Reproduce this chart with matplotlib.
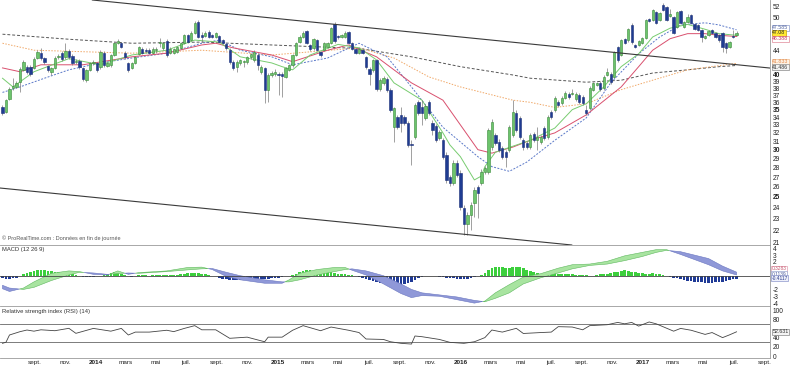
import numpy as np
import pandas as pd
import matplotlib
matplotlib.use('Agg')
import matplotlib.pyplot as plt
import matplotlib.dates as mdates
from matplotlib.transforms import blended_transform_factory
from matplotlib.ticker import FixedLocator, FixedFormatter, NullLocator

plt.rcParams['font.family'] = ['Liberation Sans', 'DejaVu Sans']

# ---------------- DATA ----------------
first_week = '2013-06-28'

opens = [35.37, 34.69, 36.47, 38.1, 38.2, 38.94, 40.75, 41.23, 41.23, 41.07,
         42.69, 43.51, 42.69, 41.39, 40.45, 41.07, 42.85, 43.51, 42.85, 43.85,
         43.02, 42.04, 42.2, 41.07, 39.24, 40.75, 41.87, 41.87, 41.23, 43.51,
         41.39, 41.55, 43.18, 45.22, 45.22, 43.51, 41.87, 41.07, 41.87, 43.35,
         44.19, 44.02, 44.02, 43.51, 44.02, 45.22, 44.36, 45.57, 43.51, 43.6,
         43.68, 44.36, 45.22, 46.64, 45.75, 47.0, 49.04, 46.64, 46.46, 47.18,
         46.64, 46.28, 46.46, 45.75, 45.05, 44.02, 42.04, 41.23, 41.87, 42.1,
         42.04, 42.85, 42.36, 43.18, 40.45, 41.07, 37.76, 40.0, 40.15, 40.15,
         40.15, 39.7, 40.75, 41.55, 43.18, 45.4, 46.28, 47.36, 44.88, 44.36,
         45.75, 43.68, 44.02, 44.53, 45.22, 48.67, 46.46, 46.28, 46.28, 47.18,
         45.22, 44.19, 43.51, 44.02, 42.85, 40.91, 40.75, 42.36, 37.9, 38.79,
         39.39, 37.76, 32.75, 34.03, 34.29, 34.03, 33.25, 30.67, 31.5, 36.05,
         35.37, 33.9, 36.05, 33.25, 32.87, 31.38, 31.14, 29.4, 27.0, 26.4,
         28.51, 27.43, 23.97, 22.54, 23.33, 24.44, 25.99, 26.4, 27.54, 27.54,
         30.3, 31.75, 30.9, 30.2, 29.74, 29.97, 31.75, 34.56, 33.9, 31.14,
         30.79, 30.3, 31.87, 31.14, 30.9, 32.62, 31.5, 34.69, 34.96, 36.05,
         35.9, 36.6, 37.18, 37.18, 36.47, 37.03, 36.75, 34.96, 35.23, 37.76,
         38.49, 38.79, 38.05, 40.0, 40.15, 39.7, 44.53, 43.18, 45.93, 45.75,
         48.48, 44.88, 44.88, 45.22, 46.1, 49.6, 49.42, 50.97, 49.42, 52.37,
         51.96, 50.2, 49.99, 48.1, 51.16, 48.1, 49.04, 50.38, 48.67, 48.48,
         47.55, 46.1, 46.64, 47.55, 47.0, 46.64, 47.0, 45.22, 44.53, 46.46,
         46.64]
highs = [35.64, 36.47, 38.2, 39.55, 39.1, 41.2, 42.36, 41.55, 41.5, 42.8,
         44.0, 44.36, 42.9, 41.6, 41.3, 43.0, 43.3, 43.8, 45.22, 44.2,
         43.3, 42.5, 42.5, 41.3, 41.0, 42.1, 42.3, 42.1, 44.0, 43.8,
         42.1, 43.4, 45.5, 45.9, 45.5, 43.8, 42.1, 42.1, 43.1, 44.8,
         44.5, 44.3, 44.3, 44.5, 44.53, 46.1, 45.5, 45.9, 44.5, 44.4,
         44.8, 45.5, 46.9, 46.9, 47.3, 49.2, 49.4, 47.2, 47.3, 47.5,
         46.9, 47.2, 46.7, 46.0, 45.3, 44.3, 42.3, 42.3, 42.6, 42.36,
         43.1, 43.6, 44.0, 43.5, 41.5, 41.3, 40.3, 40.6, 40.9, 40.4,
         40.5, 41.3, 41.8, 43.4, 45.5, 46.6, 47.3, 47.6, 45.1, 46.2,
         46.0, 43.9, 45.5, 45.5, 48.2, 49.0, 46.7, 46.9, 47.3, 47.4,
         45.5, 44.4, 44.53, 44.3, 43.1, 41.2, 42.6, 42.6, 39.5, 39.8,
         39.7, 38.0, 35.37, 34.3, 35.37, 34.3, 33.5, 31.14, 35.9, 36.3,
         36.33, 35.8, 36.3, 33.64, 33.1, 32.4, 31.4, 29.7, 27.2, 28.8,
         28.8, 27.7, 24.2, 23.6, 24.5, 25.99, 26.2, 27.8, 28.2, 32.6,
         33.7, 32.0, 31.2, 30.4, 30.0, 33.0, 36.33, 34.9, 34.1, 31.4,
         31.0, 32.0, 32.1, 32.75, 31.7, 32.9, 34.3, 34.9, 36.9, 36.3,
         36.9, 37.6, 37.5, 37.9, 37.5, 37.3, 37.0, 35.64, 38.3, 39.0,
         39.0, 39.1, 40.0, 41.07, 40.4, 43.9, 44.8, 46.0, 46.2, 48.0,
         48.8, 45.1, 45.8, 46.3, 49.7, 49.9, 51.6, 51.2, 51.0, 52.8,
         52.2, 51.56, 50.2, 51.2, 51.4, 49.3, 50.6, 50.6, 48.9, 48.7,
         47.8, 46.7, 47.6, 47.8, 47.2, 46.9, 47.2, 45.4, 45.6, 47.55,
         47.4]
lows = [34.29, 34.56, 36.33, 37.76, 38.0, 37.47, 40.6, 40.15, 39.9, 40.9,
        42.5, 42.36, 41.8, 40.5, 40.0, 40.9, 42.6, 42.2, 42.6, 42.6,
        41.6, 41.8, 41.0, 39.1, 39.0, 40.6, 41.6, 40.5, 41.0, 41.3,
        41.2, 41.3, 43.0, 45.0, 44.3, 42.6, 40.5, 40.9, 41.7, 43.2,
        43.3, 43.6, 43.3, 43.3, 43.51, 44.53, 44.1, 42.9, 43.3, 43.4,
        43.5, 44.2, 45.0, 45.2, 45.6, 46.8, 46.1, 45.4, 46.3, 46.1,
        46.1, 46.1, 45.2, 45.0, 44.1, 41.8, 40.8, 40.45, 41.6, 41.23,
        41.8, 42.6, 42.1, 40.75, 40.2, 35.9, 36.05, 39.7, 39.9, 37.03,
        36.75, 39.5, 40.6, 41.3, 43.0, 45.2, 46.1, 45.0, 43.9, 44.1,
        43.8, 42.9, 43.8, 44.3, 45.0, 45.3, 46.0, 46.1, 46.1, 45.0,
        44.0, 43.3, 43.3, 43.3, 41.0, 38.49, 40.5, 37.6, 37.6, 38.5,
        37.5, 34.7, 30.9, 32.5, 32.12, 33.0, 30.3, 28.29, 31.3, 34.3,
        33.0, 33.6, 34.3, 31.75, 30.9, 31.1, 28.9, 26.4, 26.1, 26.2,
        27.0, 23.8, 21.6, 21.6, 22.02, 23.15, 23.06, 26.2, 27.3, 27.3,
        30.0, 30.5, 29.7, 28.9, 28.07, 29.7, 31.5, 32.1, 31.3, 30.0,
        30.1, 30.1, 30.9, 29.97, 30.7, 31.1, 31.3, 33.8, 34.7, 35.4,
        35.6, 36.4, 36.5, 37.0, 36.2, 35.8, 35.6, 34.29, 35.0, 37.6,
        38.3, 37.6, 37.8, 39.8, 38.7, 39.5, 42.1, 43.0, 45.0, 45.5,
        45.1, 44.3, 44.7, 45.0, 45.9, 49.0, 49.2, 48.6, 49.2, 51.1,
        49.2, 50.0, 46.8, 47.9, 48.6, 47.9, 48.8, 48.6, 47.5, 47.3,
        45.4, 45.9, 46.4, 46.8, 46.1, 45.5, 43.68, 43.51, 44.3, 46.1,
        46.5]
closes = [34.56, 36.33, 37.9, 38.35, 38.8, 40.91, 42.04, 40.45, 40.15, 42.52,
          43.68, 42.69, 42.04, 40.75, 41.07, 42.69, 43.02, 42.52, 43.85, 42.85,
          41.87, 42.2, 41.23, 39.39, 40.75, 41.87, 42.04, 40.75, 43.68, 41.55,
          41.87, 43.18, 45.22, 45.57, 44.53, 42.85, 40.75, 41.87, 42.85, 44.53,
          43.51, 43.85, 43.51, 44.19, 44.19, 45.4, 45.22, 43.18, 44.19, 44.19,
          44.53, 45.22, 46.64, 45.4, 47.0, 48.85, 46.28, 46.28, 47.0, 46.28,
          46.28, 47.0, 45.4, 45.22, 44.36, 42.04, 41.07, 42.04, 42.36, 42.2,
          42.85, 43.35, 43.68, 41.55, 41.23, 37.76, 40.0, 40.3, 40.45, 40.0,
          39.85, 41.07, 41.55, 43.18, 45.22, 46.28, 47.0, 45.22, 44.19, 45.93,
          44.02, 43.18, 45.22, 45.22, 47.92, 45.57, 46.28, 46.64, 47.0, 45.22,
          44.19, 43.51, 44.19, 43.51, 41.23, 40.15, 42.36, 37.9, 39.24, 39.55,
          37.76, 34.96, 35.23, 32.75, 33.25, 33.25, 30.55, 30.55, 35.64, 34.56,
          34.56, 35.5, 34.56, 32.37, 31.14, 32.12, 29.17, 26.7, 26.4, 28.51,
          27.22, 24.06, 22.54, 23.33, 24.25, 25.69, 25.4, 27.54, 27.97, 32.37,
          33.38, 30.79, 29.97, 29.17, 29.17, 32.75, 34.69, 32.37, 31.5, 30.3,
          30.3, 31.75, 31.14, 31.5, 31.5, 31.38, 34.03, 34.03, 36.6, 35.64,
          36.6, 37.32, 36.75, 37.32, 37.18, 36.05, 35.9, 34.56, 38.05, 38.79,
          38.79, 37.9, 39.7, 40.45, 38.94, 43.68, 42.36, 45.75, 45.22, 47.73,
          45.4, 44.53, 45.57, 46.1, 49.42, 49.23, 51.36, 48.85, 50.77, 51.36,
          49.42, 50.57, 47.0, 50.97, 48.85, 49.04, 49.99, 48.85, 47.73, 47.55,
          46.28, 46.46, 47.36, 47.0, 46.28, 45.75, 44.53, 44.36, 45.4, 46.28,
          47.08]

# moving averages (week index, value)
ma_fast_wk = [0, 3, 9, 19, 28, 37, 47, 55, 62, 68, 77, 80, 83, 88, 96, 102, 107,
              112, 120, 126, 128, 131, 135, 137, 138, 141, 146, 151, 158, 163,
              167, 172, 177, 182, 186, 191, 196, 201, 205, 210]
ma_fast = [39.5, 38.2, 40.5, 42.6, 41.6, 43.2, 44.0, 45.75, 45.4, 42.9, 41.9,
           41.3, 40.8, 43.2, 45.0, 44.4, 42.4, 38.8, 36.3, 32.0, 30.55, 29.2,
           26.7, 27.1, 28.1, 29.7, 30.4, 31.1, 32.6, 35.0, 35.8, 38.2, 41.3,
           43.4, 46.3, 47.9, 48.6, 47.7, 46.9, 46.6]
ma_mid_wk = [0, 5, 11, 23, 37, 47, 57, 61, 66, 77, 83, 93, 99, 107, 117, 126,
             131, 136, 140, 146, 151, 158, 167, 177, 182, 186, 191, 196, 201,
             205, 210]
ma_mid = [41.1, 40.5, 41.6, 41.6, 42.9, 43.5, 44.9, 45.2, 44.4, 43.2, 42.1,
          44.0, 44.9, 42.9, 38.8, 36.3, 33.0, 30.0, 29.6, 30.3, 31.1, 32.0,
          34.3, 38.2, 41.3, 44.0, 46.0, 46.9, 46.9, 46.6, 46.39]
ma_blue_wk = [0, 5, 12, 19, 28, 37, 47, 57, 62, 68, 77, 83, 93, 102, 110, 117,
              126, 136, 140, 145, 150, 158, 167, 174, 182, 188, 194, 201, 205,
              210]
ma_blue = [37.4, 38.2, 39.5, 40.8, 41.9, 42.7, 43.5, 45.2, 45.75, 44.0, 42.9,
           41.6, 42.7, 45.2, 42.9, 38.2, 32.7, 29.2, 28.1, 27.6, 28.6, 31.1,
           33.9, 38.8, 43.4, 46.3, 48.5, 48.9, 48.5, 47.6]
ma_orange_wk = [0, 9, 37, 57, 77, 102, 112, 122, 131, 146, 151, 158, 167, 177,
                186, 196, 210]
ma_orange = [45.2, 44.0, 43.5, 44.0, 43.2, 44.4, 42.7, 39.7, 38.2, 36.3, 36.0,
             35.3, 35.8, 37.8, 39.2, 40.8, 41.83]
ma_slow_wk = [0, 19, 37, 57, 77, 102, 117, 131, 146, 151, 167, 177, 186, 196,
              205, 210]
ma_slow = [46.8, 45.9, 45.2, 45.4, 44.9, 44.3, 42.9, 41.3, 40.0, 39.5, 38.9,
           39.2, 40.3, 40.8, 41.3, 41.49]

# trend lines (date, price)
trend_upper_dates = ['2013-12-25', '2017-09-12']
trend_upper_prices = [53.39, 41.08]
trend_lower_dates = ['2013-06-23', '2016-08-11']
trend_lower_prices = [25.88, 20.78]

# MACD (12 26 9)
macd_wk = [0, 2, 6, 9, 14, 19, 22, 26, 30, 33, 36, 39, 47, 53, 57, 60, 64, 68,
           75, 80, 82, 85, 90, 95, 98, 100, 104, 109, 114, 117, 120, 125, 130,
           135, 138, 141, 145, 149, 154, 159, 163, 168, 173, 178, 183, 187, 190,
           194, 202, 206, 210]
macd_line = [-1.9, -2.3, -1.8, -0.9, 0.35, 0.7, 0.6, 0.2, 0.1, 0.7, 0.2, 0.45,
             0.7, 1.2, 1.25, 0.9, -0.1, -0.6, -1.1, -1.1, -0.6, 0.35, 0.9, 1.2,
             1.2, 0.8, 0.1, -1.2, -2.6, -3.2, -2.9, -3.0, -3.5, -4.0, -3.7, -2.5,
             -1.3, -0.2, 0.3, 1.1, 1.6, 1.7, 2.1, 2.9, 3.4, 3.8, 3.8, 3.1, 1.6,
             0.7, 0.11]
macd_signal = [-1.4, -1.8, -2.0, -1.7, -0.7, 0.1, 0.5, 0.4, 0.2, 0.3, 0.4, 0.35,
               0.6, 0.85, 1.0, 1.05, 0.5, 0.0, -0.6, -0.9, -0.9, -0.6, 0.1, 0.6,
               0.9, 1.0, 0.7, 0.0, -1.2, -2.0, -2.5, -2.8, -3.1, -3.6, -3.8,
               -3.3, -2.5, -1.2, -0.3, 0.4, 1.0, 1.5, 1.7, 2.2, 2.8, 3.4, 3.7,
               3.5, 2.5, 1.4, 0.52]
macd_hist = [
    -0.3, -0.5, -0.5, -0.4, -0.3, -0.1,
    0.2, 0.4, 0.6, 0.7, 0.8, 0.8, 0.8, 0.75, 0.7, 0.6, 0.5, 0.45, 0.4, 0.3, 0.2, 0.1,
    -0.1, -0.15, -0.2, -0.2, -0.15, -0.1, -0.05,
    0.1, 0.3, 0.45, 0.6, 0.5, 0.3, 0.1,
    -0.1, -0.15, -0.05,
    0.05, 0.1, 0.05, 0.0, 0.05, 0.1, 0.1, 0.05, 0.1, 0.05, 0.1, 0.15, 0.2, 0.3,
    0.35, 0.4, 0.45, 0.4, 0.3, 0.2, 0.1, 0.0,
    -0.1, -0.3, -0.45, -0.55, -0.6, -0.65, -0.65, -0.6, -0.55, -0.5, -0.5,
    -0.45, -0.45, -0.5, -0.5, -0.45, -0.4, -0.35, -0.3, -0.2, -0.1, -0.05,
    0.1, 0.3, 0.5, 0.7, 0.8, 0.8, 0.75, 0.7, 0.65, 0.6, 0.55, 0.5, 0.4, 0.3,
    0.25, 0.2, 0.1, 0.05,
    -0.1, -0.2, -0.35, -0.5, -0.65, -0.8, -0.9, -1.0, -1.1, -1.15, -1.2, -1.25,
    -1.3, -1.3, -1.2, -1.1, -0.9,
    -0.6, -0.4, -0.2, -0.1, -0.05, -0.05, -0.1,
    -0.15, -0.2, -0.3, -0.35, -0.4, -0.45, -0.5, -0.5, -0.45, -0.35, -0.25, -0.1, 0.05,
    0.4, 0.8, 1.1, 1.2, 1.25, 1.2, 1.1, 1.15, 1.25, 1.3, 1.25, 1.1, 0.9, 0.7, 0.5, 0.35,
    0.3, 0.3, 0.3, 0.35, 0.35, 0.3, 0.3, 0.25, 0.25, 0.2, 0.15, 0.1, 0.05, 0.05, 0.0, 0.0,
    0.1, 0.2, 0.25, 0.3, 0.4, 0.5, 0.6, 0.7, 0.8, 0.75, 0.6, 0.5, 0.4, 0.35,
    0.3, 0.3, 0.35, 0.3, 0.2, 0.1,
    -0.1, -0.2, -0.3, -0.4, -0.5, -0.6, -0.7, -0.8, -0.85, -0.9, -0.95, -1.0,
    -1.0, -1.0, -0.95, -0.9, -0.85, -0.75, -0.65, -0.55, -0.41,
]

# RSI (14)
rsi_wk = [0, 1, 2, 5, 7, 9, 11, 15, 19, 21, 26, 31, 34, 36, 38, 42, 47, 49, 52,
          55, 57, 61, 65, 70, 75, 76, 80, 83, 86, 91, 94, 99, 102, 104, 109, 111,
          114, 117, 118, 120, 125, 128, 132, 135, 138, 140, 143, 147, 149, 154,
          157, 159, 163, 166, 168, 173, 176, 178, 180, 182, 185, 187, 192, 194,
          197, 201, 203, 206, 208, 210]
rsi = [27.6, 30, 45.7, 52.9, 56.5, 54, 57, 55, 60.2, 49.3, 60, 54, 60, 45.7, 52,
       52, 56, 53, 60, 66, 57, 57, 38.5, 41, 31, 41, 41, 56, 66, 55, 63, 56, 51,
       37, 36, 31, 27.6, 26, 43.5, 42, 36, 29.7, 27.6, 31, 40, 56.5, 52, 60.2,
       49, 51, 52, 63.8, 63, 57, 66, 68, 73, 70, 73, 65, 74, 70, 54, 60, 56, 47,
       51, 40, 46, 52.631]

price_tags = ['47.585', '47.08', '46.388', '41.833', '41.486']
macd_tags = ['0.3283', '0.1139', '-0.4117']
rsi_tag = '52.631'

# ---------------- FIGURE ----------------
W, H = 790, 367
fig = plt.figure(figsize=(W / 100, H / 100), dpi=100)
PR = 770


def rect(top, bottom):
    return [0, 1 - bottom / H, PR / W, (bottom - top) / H]


ax1 = fig.add_axes(rect(0, 245))
ax2 = fig.add_axes(rect(245, 306))
ax3 = fig.add_axes(rect(306, 358))

o = np.array(opens); h = np.array(highs); l = np.array(lows); c = np.array(closes)
n = len(c)
dates = pd.date_range(first_week, periods=n, freq='7D')
xd = mdates.date2num(dates.to_pydatetime())
x0 = mdates.date2num(pd.Timestamp('2013-06-23').to_pydatetime())
x1 = mdates.date2num(pd.Timestamp('2017-09-12').to_pydatetime())

spine_c = '#9a9a9a'
for ax in (ax1, ax2, ax3):
    ax.set_xlim(x0, x1)
    ax.set_facecolor('white')
    ax.spines['left'].set_visible(False)
    for s in ('right', 'top', 'bottom'):
        ax.spines[s].set_color(spine_c)
        ax.spines[s].set_linewidth(0.6)
    ax.yaxis.tick_right()
    ax.tick_params(axis='y', length=0, labelsize=4.8, pad=2, colors='#222222')
    ax.tick_params(axis='x', length=0)
ax1.spines['top'].set_visible(False)

# ---- main panel ----
ax1.set_yscale('log')
ax1.set_ylim(20.78, 53.39)

ax1.vlines(xd, l, h, color='#7a7a7a', lw=0.5, zorder=2)
bb = np.minimum(o, c)
bh = np.maximum(np.abs(c - o), bb * 0.004)
up = c >= o
ax1.bar(xd[up], bh[up], bottom=bb[up], width=4.6, color='#6cc46c',
        edgecolor='#3a8a3a', lw=0.4, zorder=3)
ax1.bar(xd[~up], bh[~up], bottom=bb[~up], width=4.6, color='#1f3c92',
        edgecolor='#1a2f78', lw=0.4, zorder=3)

ax1.plot(xd[ma_slow_wk], ma_slow, color='#555555', lw=0.7,
         ls=(0, (3, 2)), zorder=1)
ax1.plot(xd[ma_orange_wk], ma_orange, color='#f0a868', lw=0.7,
         ls=(0, (1.5, 1.5)), zorder=1)
ax1.plot(xd[ma_blue_wk], ma_blue, color='#5a78c8', lw=0.7,
         ls=(0, (2, 1.5)), zorder=1)
ax1.plot(xd[ma_mid_wk], ma_mid, color='#d9506e', lw=0.7, zorder=1)
ax1.plot(xd[ma_fast_wk], ma_fast, color='#78cc70', lw=0.7, zorder=1)

tu = mdates.date2num(pd.to_datetime(trend_upper_dates).to_pydatetime())
tl = mdates.date2num(pd.to_datetime(trend_lower_dates).to_pydatetime())
ax1.plot(tu, trend_upper_prices, color='#3a3a3a', lw=0.8, zorder=4)
ax1.plot(tl, trend_lower_prices, color='#3a3a3a', lw=0.8, zorder=4)

yt = list(range(21, 41)) + [44, 50, 52]
ax1.yaxis.set_major_locator(FixedLocator(yt))
ax1.yaxis.set_major_formatter(FixedFormatter([str(v) for v in yt]))
ax1.yaxis.set_minor_locator(NullLocator())
for lbl in ax1.get_yticklabels():
    if lbl.get_text() in ('25', '30', '35', '40'):
        lbl.set_fontweight('bold')
ax1.tick_params(axis='x', labelbottom=False)

tr1 = blended_transform_factory(ax1.transAxes, ax1.transData)
tag_pos = [47.95, 47.08, 45.98, 42.08, 41.2]
tag_style = [('#ffffff', '#8d9ccc', '#5566a0'),
             ('#ffe930', '#c8a800', '#222222'),
             ('#ffffff', '#e08898', '#c83a5a'),
             ('#fff2e4', '#f0b888', '#e08a50'),
             ('#f2f2f2', '#8a8a8a', '#333333')]
for s, yv, (fc, ec, tc) in zip(price_tags, tag_pos, tag_style):
    ax1.text(1.003, yv, s, transform=tr1, fontsize=3.8, color=tc, va='center',
             ha='left', clip_on=False,
             bbox=dict(boxstyle='square,pad=0.1', fc=fc, ec=ec, lw=0.5))

ax1.text(0.003, 0.015, '\u00a9 ProRealTime.com : Donn\u00e9es en fin de journ\u00e9e',
         transform=ax1.transAxes, fontsize=4.0, color='#555555', va='bottom')

# ---- MACD panel ----
ax2.set_ylim(-4.42, 4.48)
hist = np.array(macd_hist[:n])
ax2.bar(xd[:len(hist)], hist, width=5.4,
        color=np.where(hist >= 0, '#3ccf3c', '#1f3a96'), lw=0, zorder=2)
xm = xd[macd_wk]
m = np.array(macd_line); sg = np.array(macd_signal)
ax2.fill_between(xm, m, sg, where=m >= sg, interpolate=True, color='#a8e4a0',
                 ec='#5fb85f', lw=0.4, zorder=3)
ax2.fill_between(xm, m, sg, where=m < sg, interpolate=True, color='#8f98d8',
                 ec='#6a76c0', lw=0.4, zorder=3)
ax2.axhline(0, color='#444444', lw=0.6, zorder=4)
mt = [4, 3, 2, -2, -3, -4]
ax2.yaxis.set_major_locator(FixedLocator(mt))
ax2.yaxis.set_major_formatter(FixedFormatter([str(v) for v in mt]))
ax2.tick_params(axis='x', labelbottom=False)
tr2 = blended_transform_factory(ax2.transAxes, ax2.transData)
macd_pos = [0.98, 0.2, -0.38]
macd_style = [('#ffffff', '#e0a0b0', '#c85a70'),
              ('#ffffff', '#9aa6d0', '#4a5a9a'),
              ('#eef0fa', '#8c96cc', '#2a3a8a')]
for s, yv, (fc, ec, tc) in zip(macd_tags, macd_pos, macd_style):
    ax2.text(1.002, yv, s, transform=tr2, fontsize=3.5, color=tc, va='center',
             ha='left', clip_on=False,
             bbox=dict(boxstyle='square,pad=0.08', fc=fc, ec=ec, lw=0.5))
ax2.text(0.003, 0.92, 'MACD (12 26 9)', transform=ax2.transAxes, fontsize=4.2,
         color='#333333', va='center')

# ---- RSI panel ----
ax3.set_ylim(-4.3, 108.7)
ax3.plot(xd[rsi_wk], rsi, color='#444444', lw=0.6, zorder=3)
ax3.axhline(70, color='#666666', lw=0.6)
ax3.axhline(30, color='#666666', lw=0.6)
rt = [100, 80, 40, 20, 0]
ax3.yaxis.set_major_locator(FixedLocator(rt))
ax3.yaxis.set_major_formatter(FixedFormatter([str(v) for v in rt]))
tr3 = blended_transform_factory(ax3.transAxes, ax3.transData)
ax3.text(1.003, rsi[-1], rsi_tag, transform=tr3, fontsize=3.8, color='#333333',
         va='center', ha='left', clip_on=False,
         bbox=dict(boxstyle='square,pad=0.1', fc='#f4f4f4', ec='#888888', lw=0.5))
ax3.text(0.003, 0.9, 'Relative strength index (RSI) (14)', transform=ax3.transAxes,
         fontsize=4.2, color='#333333', va='center')

# x ticks
month_lbl = {3: 'mars', 5: 'mai', 7: 'juil.', 9: 'sept.', 11: 'nov.'}
tick_dates, tick_lbls = [], []
for yr in range(2013, 2018):
    for mo in (1, 3, 5, 7, 9, 11):
        d = pd.Timestamp(year=yr, month=mo, day=1)
        if pd.Timestamp('2013-08-01') <= d <= pd.Timestamp('2017-09-05'):
            tick_dates.append(mdates.date2num(d.to_pydatetime()))
            tick_lbls.append(str(yr) if mo == 1 else month_lbl[mo])
ax3.set_xticks(tick_dates)
ax3.set_xticklabels(tick_lbls, fontsize=4.6, color='#222222')
ax3.tick_params(axis='x', length=0, pad=1.5)
for lbl in ax3.get_xticklabels():
    if lbl.get_text().isdigit():
        lbl.set_fontweight('bold')
for ax in (ax1, ax2):
    ax.set_xticks([])

fig.savefig('out.png', dpi=100)
